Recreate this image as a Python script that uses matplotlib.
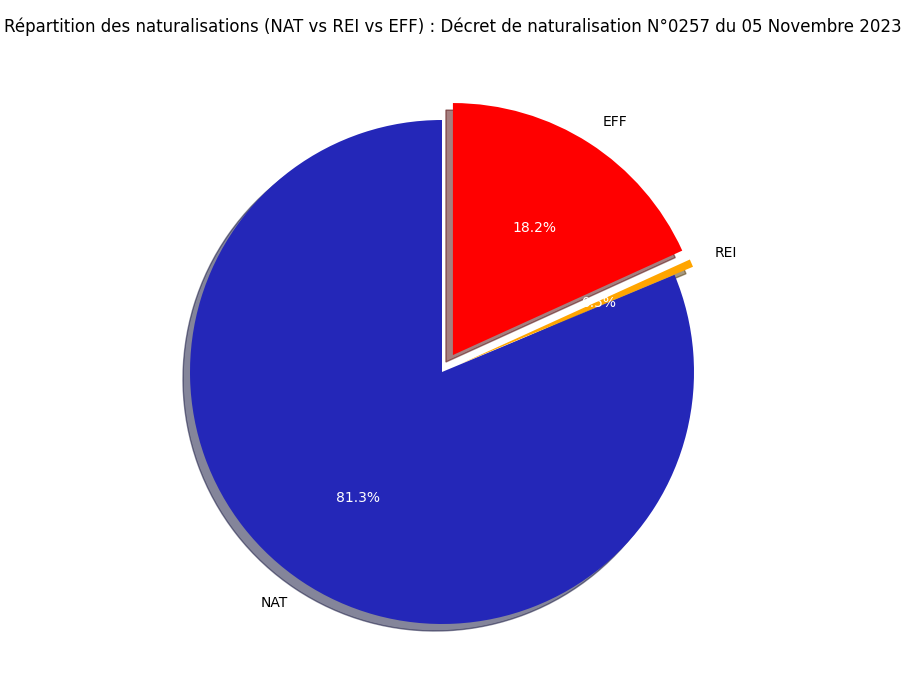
import matplotlib
matplotlib.use('Agg')
import matplotlib.pyplot as plt

labels = ["NAT", "REI", "EFF"]
values = [81.3, 0.5, 18.2]
colors = ["#2427b8", "orange", "red"]
explode = [0, 0.08, 0.08]

fig = plt.figure(figsize=(9.06, 6.98), dpi=100)
ax = fig.add_axes([127 / 906, 11 / 698, 630 / 906, 630 / 698])
wedges, texts, autotexts = ax.pie(values, labels=labels, colors=colors, explode=explode,
                                  autopct='%1.1f%%', startangle=90, shadow=True)
for t in autotexts:
    t.set_color('white')
fig.suptitle("Répartition des naturalisations (NAT vs REI vs EFF) : Décret de naturalisation N°0257 du 05 Novembre 2023",
             y=0.975, fontsize=12)
plt.savefig("out.png")
